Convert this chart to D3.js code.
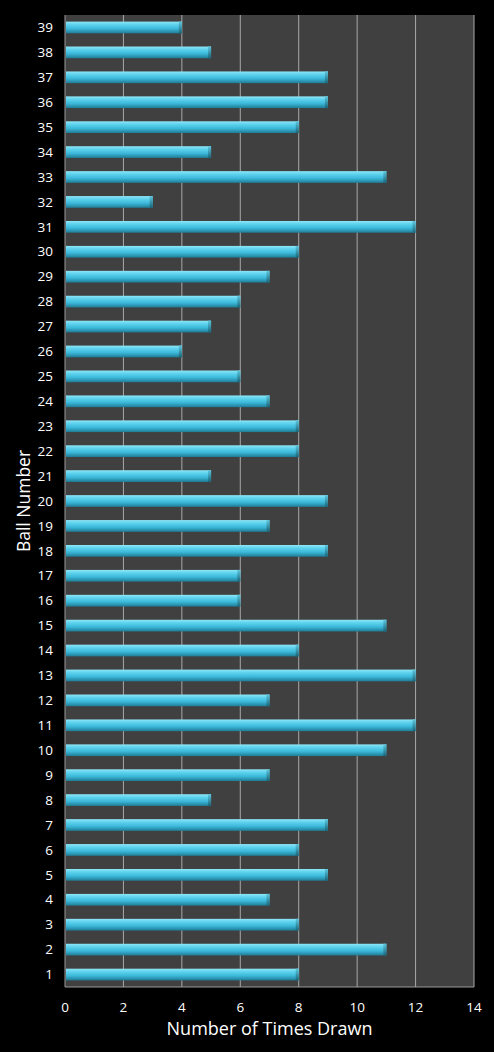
<!DOCTYPE html>
<html>
<head>
<meta charset="utf-8">
<script src="https://cdn.jsdelivr.net/npm/d3@7"></script>
<style>
  html, body { margin: 0; padding: 0; background: #000; }
  svg { display: block; }
</style>
</head>
<body>
<svg id="chart" width="494" height="1052"></svg>
<script>
// ball numbers, bottom to top
const balls = d3.range(1, 40).map(String);
// times drawn for each ball (1..39)
const timesDrawn = [8, 11, 8, 7, 9, 8, 9, 5, 7, 11,
                    12, 7, 12, 8, 11, 6, 6, 9, 7, 9,
                    5, 8, 8, 7, 6, 4, 5, 6, 7, 8,
                    12, 3, 11, 5, 8, 9, 9, 5, 4];
const xTicks = [0, 2, 4, 6, 8, 10, 12, 14];

const width = 494, height = 1052;
const margin = { top: 15, right: 20, bottom: 65, left: 65 };
const font = "'Open Sans', sans-serif";

const svg = d3.select("#chart");

// bar gradient, light on top, darker at the bottom
const defs = svg.append("defs");
const grad = defs.append("linearGradient")
    .attr("id", "barGrad")
    .attr("x1", 0).attr("y1", 0).attr("x2", 0).attr("y2", 1);
grad.append("stop").attr("offset", "0%").attr("stop-color", "#8fe6f6");
grad.append("stop").attr("offset", "25%").attr("stop-color", "#5fd3ee");
grad.append("stop").attr("offset", "60%").attr("stop-color", "#3cb9da");
grad.append("stop").attr("offset", "100%").attr("stop-color", "#1f7c95");

const capGrad = defs.append("linearGradient")
    .attr("id", "capGrad")
    .attr("x1", 0).attr("y1", 0).attr("x2", 0).attr("y2", 1);
capGrad.append("stop").attr("offset", "0%").attr("stop-color", "#5cc6dd");
capGrad.append("stop").attr("offset", "100%").attr("stop-color", "#1a6579");

const x = d3.scaleLinear()
    .domain([0, 14])
    .range([margin.left, width - margin.right]);

const y = d3.scaleBand()
    .domain(balls)
    .range([height - margin.bottom, margin.top])
    .paddingInner(0.53)
    .paddingOuter(0.265);

// plot background
svg.append("rect")
    .attr("x", x(0))
    .attr("y", margin.top)
    .attr("width", x(14) - x(0))
    .attr("height", height - margin.bottom - margin.top)
    .attr("fill", "#404040");

// vertical gridlines
svg.append("g")
    .selectAll("line")
    .data(xTicks.slice(1))
    .join("line")
    .attr("x1", d => x(d)).attr("x2", d => x(d))
    .attr("y1", margin.top).attr("y2", height - margin.bottom)
    .attr("stroke", "#a8a8a8")
    .attr("stroke-width", 1);

// bars
const bars = svg.append("g")
    .selectAll("g")
    .data(timesDrawn)
    .join("g");

bars.append("rect")
    .attr("x", x(0) + 1)
    .attr("y", (d, i) => y(balls[i]))
    .attr("width", d => x(d) - x(0) - 1)
    .attr("height", y.bandwidth())
    .attr("fill", "url(#barGrad)");

// darker end cap gives the 3-d look
bars.append("rect")
    .attr("x", d => x(d) - 3)
    .attr("y", (d, i) => y(balls[i]))
    .attr("width", 3)
    .attr("height", y.bandwidth())
    .attr("fill", "url(#capGrad)");

// axes lines (left and bottom)
svg.append("line")
    .attr("x1", x(0)).attr("x2", x(0))
    .attr("y1", margin.top).attr("y2", height - margin.bottom)
    .attr("stroke", "#9a9a9a");
svg.append("line")
    .attr("x1", x(0)).attr("x2", x(14))
    .attr("y1", height - margin.bottom).attr("y2", height - margin.bottom)
    .attr("stroke", "#9a9a9a");

// y tick labels
svg.append("g")
    .selectAll("text")
    .data(balls)
    .join("text")
    .attr("x", 53)
    .attr("y", d => y(d) + y.bandwidth() / 2)
    .attr("dy", "0.35em")
    .attr("text-anchor", "end")
    .attr("fill", "#fff")
    .attr("font-family", font)
    .attr("font-size", 13.5)
    .text(d => d);

// x tick labels
svg.append("g")
    .selectAll("text")
    .data(xTicks)
    .join("text")
    .attr("x", d => x(d))
    .attr("y", 1012)
    .attr("text-anchor", "middle")
    .attr("fill", "#fff")
    .attr("font-family", font)
    .attr("font-size", 13.5)
    .text(d => d);

// axis titles
svg.append("text")
    .attr("x", (x(0) + x(14)) / 2)
    .attr("y", 1035)
    .attr("text-anchor", "middle")
    .attr("fill", "#fff")
    .attr("font-family", font)
    .attr("font-size", 18)
    .text("Number of Times Drawn");

svg.append("text")
    .attr("transform", `translate(30,${(margin.top + height - margin.bottom) / 2}) rotate(-90)`)
    .attr("text-anchor", "middle")
    .attr("fill", "#fff")
    .attr("font-family", font)
    .attr("font-size", 17.5)
    .text("Ball Number");
</script>
</body>
</html>
